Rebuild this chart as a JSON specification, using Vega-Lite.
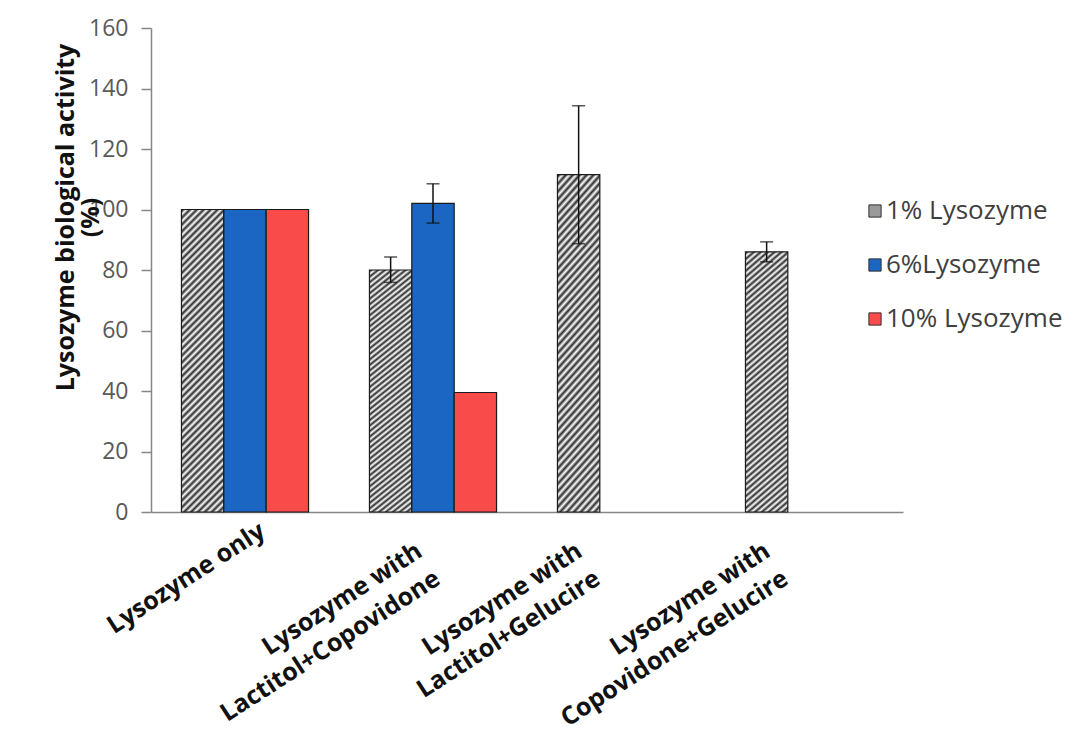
{
  "$schema": "https://vega.github.io/schema/vega-lite/v6.json",
  "width": 752,
  "height": 484,
  "autosize": {"type": "none"},
  "padding": {"left": 151, "top": 28, "right": 170, "bottom": 225},
  "background": "white",
  "config": {
    "view": {"stroke": null},
    "font": "Open Sans",
    "axis": {"grid": false}
  },
  "data": {
    "values": [
      {"group": "Lysozyme only", "series": "1% Lysozyme", "value": 100, "lo": null, "hi": null},
      {"group": "Lysozyme only", "series": "6%Lysozyme", "value": 100, "lo": null, "hi": null},
      {"group": "Lysozyme only", "series": "10% Lysozyme", "value": 100, "lo": null, "hi": null},
      {"group": "Lysozyme with\nLactitol+Copovidone", "series": "1% Lysozyme", "value": 80, "lo": 75.9, "hi": 84.3},
      {"group": "Lysozyme with\nLactitol+Copovidone", "series": "6%Lysozyme", "value": 102, "lo": 95.5, "hi": 108.5},
      {"group": "Lysozyme with\nLactitol+Copovidone", "series": "10% Lysozyme", "value": 39.5, "lo": null, "hi": null},
      {"group": "Lysozyme with\nLactitol+Gelucire", "series": "1% Lysozyme", "value": 111.5, "lo": 88.7, "hi": 134.3},
      {"group": "Lysozyme with\nCopovidone+Gelucire", "series": "1% Lysozyme", "value": 86, "lo": 82.7, "hi": 89.3}
    ]
  },
  "encoding": {
    "x": {
      "field": "group",
      "type": "nominal",
      "sort": null,
      "scale": {
        "domain": ["Lysozyme only", "Lysozyme with\nLactitol+Copovidone", "Lysozyme with\nLactitol+Gelucire", "Lysozyme with\nCopovidone+Gelucire"],
        "paddingInner": 0.324,
        "paddingOuter": 0.162
      },
      "axis": {
        "title": null,
        "ticks": false,
        "domainColor": "#868686",
        "domainWidth": 1.5,
        "labelAngle": -33,
        "labelAlign": "right",
        "labelBaseline": "top",
        "labelFont": "Open Sans",
        "labelFontWeight": "bold",
        "labelFontSize": 25,
        "labelColor": "#111111",
        "labelLineHeight": 33,
        "labelLimit": 500,
        "labelOverlap": false,
        "labelBound": false,
        "labelOffset": {
          "condition": [
            {"test": "datum.value === 'Lysozyme only'", "value": 11},
            {"test": "datum.value === 'Lysozyme with\\nLactitol+Copovidone'", "value": -20}
          ],
          "value": -48
        },
        "labelPadding": {
          "condition": {"test": "datum.value === 'Lysozyme only'", "value": 6},
          "value": 26
        },
        "labelExpr": "split(datum.label, '\\n')"
      }
    },
    "xOffset": {
      "field": "series",
      "type": "nominal",
      "scale": {"domain": ["1% Lysozyme", "6%Lysozyme", "10% Lysozyme"], "paddingInner": 0, "paddingOuter": 0}
    }
  },
  "layer": [
    {
      "mark": {"type": "bar", "stroke": "#1a1a1a", "strokeWidth": 1.2},
      "encoding": {
        "y": {
          "field": "value",
          "type": "quantitative",
          "scale": {"domain": [0, 160], "nice": false},
          "axis": {
            "values": [0, 20, 40, 60, 80, 100, 120, 140, 160],
            "title": ["Lysozyme biological activity", "(%)"],
            "titleFont": "Open Sans",
            "titleFontWeight": "bold",
            "titleFontSize": 25,
            "titleColor": "#111111",
            "titleAngle": -90,
            "titleAlign": "center",
            "titleBaseline": "middle",
            "titleX": -86,
            "titleY": 189,
            "titleLineHeight": 25,
            "domainColor": "#868686",
            "domainWidth": 1.5,
            "tickColor": "#868686",
            "tickSize": 10,
            "tickWidth": 1.5,
            "labelFont": "Open Sans",
            "labelFontSize": 23,
            "labelColor": "#595959",
            "labelPadding": 13
          }
        },
        "fill": {
          "condition": {
            "test": "datum.series === '1% Lysozyme'",
            "value": {"gradient": "linear", "x1": 0, "y1": 0, "x2": 0.1565, "y2": 1.118, "stops": [
                {"offset": 0.005, "color": "#2b2b2b"}, {"offset": 0.015, "color": "#ffffff"},
                {"offset": 0.025, "color": "#2b2b2b"}, {"offset": 0.035, "color": "#ffffff"},
                {"offset": 0.045, "color": "#2b2b2b"}, {"offset": 0.055, "color": "#ffffff"},
                {"offset": 0.065, "color": "#2b2b2b"}, {"offset": 0.075, "color": "#ffffff"},
                {"offset": 0.085, "color": "#2b2b2b"}, {"offset": 0.095, "color": "#ffffff"},
                {"offset": 0.105, "color": "#2b2b2b"}, {"offset": 0.115, "color": "#ffffff"},
                {"offset": 0.125, "color": "#2b2b2b"}, {"offset": 0.135, "color": "#ffffff"},
                {"offset": 0.145, "color": "#2b2b2b"}, {"offset": 0.155, "color": "#ffffff"},
                {"offset": 0.165, "color": "#2b2b2b"}, {"offset": 0.175, "color": "#ffffff"},
                {"offset": 0.185, "color": "#2b2b2b"}, {"offset": 0.195, "color": "#ffffff"},
                {"offset": 0.205, "color": "#2b2b2b"}, {"offset": 0.215, "color": "#ffffff"},
                {"offset": 0.225, "color": "#2b2b2b"}, {"offset": 0.235, "color": "#ffffff"},
                {"offset": 0.245, "color": "#2b2b2b"}, {"offset": 0.255, "color": "#ffffff"},
                {"offset": 0.265, "color": "#2b2b2b"}, {"offset": 0.275, "color": "#ffffff"},
                {"offset": 0.285, "color": "#2b2b2b"}, {"offset": 0.295, "color": "#ffffff"},
                {"offset": 0.305, "color": "#2b2b2b"}, {"offset": 0.315, "color": "#ffffff"},
                {"offset": 0.325, "color": "#2b2b2b"}, {"offset": 0.335, "color": "#ffffff"},
                {"offset": 0.345, "color": "#2b2b2b"}, {"offset": 0.355, "color": "#ffffff"},
                {"offset": 0.365, "color": "#2b2b2b"}, {"offset": 0.375, "color": "#ffffff"},
                {"offset": 0.385, "color": "#2b2b2b"}, {"offset": 0.395, "color": "#ffffff"},
                {"offset": 0.405, "color": "#2b2b2b"}, {"offset": 0.415, "color": "#ffffff"},
                {"offset": 0.425, "color": "#2b2b2b"}, {"offset": 0.435, "color": "#ffffff"},
                {"offset": 0.445, "color": "#2b2b2b"}, {"offset": 0.455, "color": "#ffffff"},
                {"offset": 0.465, "color": "#2b2b2b"}, {"offset": 0.475, "color": "#ffffff"},
                {"offset": 0.485, "color": "#2b2b2b"}, {"offset": 0.495, "color": "#ffffff"},
                {"offset": 0.505, "color": "#2b2b2b"}, {"offset": 0.515, "color": "#ffffff"},
                {"offset": 0.525, "color": "#2b2b2b"}, {"offset": 0.535, "color": "#ffffff"},
                {"offset": 0.545, "color": "#2b2b2b"}, {"offset": 0.555, "color": "#ffffff"},
                {"offset": 0.565, "color": "#2b2b2b"}, {"offset": 0.575, "color": "#ffffff"},
                {"offset": 0.585, "color": "#2b2b2b"}, {"offset": 0.595, "color": "#ffffff"},
                {"offset": 0.605, "color": "#2b2b2b"}, {"offset": 0.615, "color": "#ffffff"},
                {"offset": 0.625, "color": "#2b2b2b"}, {"offset": 0.635, "color": "#ffffff"},
                {"offset": 0.645, "color": "#2b2b2b"}, {"offset": 0.655, "color": "#ffffff"},
                {"offset": 0.665, "color": "#2b2b2b"}, {"offset": 0.675, "color": "#ffffff"},
                {"offset": 0.685, "color": "#2b2b2b"}, {"offset": 0.695, "color": "#ffffff"},
                {"offset": 0.705, "color": "#2b2b2b"}, {"offset": 0.715, "color": "#ffffff"},
                {"offset": 0.725, "color": "#2b2b2b"}, {"offset": 0.735, "color": "#ffffff"},
                {"offset": 0.745, "color": "#2b2b2b"}, {"offset": 0.755, "color": "#ffffff"},
                {"offset": 0.765, "color": "#2b2b2b"}, {"offset": 0.775, "color": "#ffffff"},
                {"offset": 0.785, "color": "#2b2b2b"}, {"offset": 0.795, "color": "#ffffff"},
                {"offset": 0.805, "color": "#2b2b2b"}, {"offset": 0.815, "color": "#ffffff"},
                {"offset": 0.825, "color": "#2b2b2b"}, {"offset": 0.835, "color": "#ffffff"},
                {"offset": 0.845, "color": "#2b2b2b"}, {"offset": 0.855, "color": "#ffffff"},
                {"offset": 0.865, "color": "#2b2b2b"}, {"offset": 0.875, "color": "#ffffff"},
                {"offset": 0.885, "color": "#2b2b2b"}, {"offset": 0.895, "color": "#ffffff"},
                {"offset": 0.905, "color": "#2b2b2b"}, {"offset": 0.915, "color": "#ffffff"},
                {"offset": 0.925, "color": "#2b2b2b"}, {"offset": 0.935, "color": "#ffffff"},
                {"offset": 0.945, "color": "#2b2b2b"}, {"offset": 0.955, "color": "#ffffff"},
                {"offset": 0.965, "color": "#2b2b2b"}, {"offset": 0.975, "color": "#ffffff"},
                {"offset": 0.985, "color": "#2b2b2b"}, {"offset": 0.995, "color": "#ffffff"}
              ]}
          },
          "field": "series",
          "type": "nominal",
          "scale": {
            "domain": ["1% Lysozyme", "6%Lysozyme", "10% Lysozyme"],
            "range": ["#9a9a9a", "#1a66c2", "#fa4b4b"]
          },
          "legend": {
            "title": null,
            "orient": "none",
            "legendX": 711,
            "legendY": 170,
            "symbolType": "square",
            "symbolSize": 150,
            "symbolStrokeColor": "#333333",
            "symbolStrokeWidth": 1,
            "labelFont": "Open Sans",
            "labelFontSize": 26,
            "labelColor": "#404040",
            "labelOffset": -2,
            "rowPadding": 28,
            "labelLimit": 300
          }
        }
      }
    },
    {
      "transform": [{"filter": "datum.lo != null"}],
      "mark": {"type": "rule", "color": "#111111", "strokeWidth": 1.5},
      "encoding": {
        "y": {"field": "lo", "type": "quantitative"},
        "y2": {"field": "hi"}
      }
    },
    {
      "transform": [{"filter": "datum.lo != null"}],
      "mark": {"type": "tick", "color": "#111111", "size": 13, "thickness": 1.5},
      "encoding": {
        "y": {"field": "lo", "type": "quantitative"}
      }
    },
    {
      "transform": [{"filter": "datum.lo != null"}],
      "mark": {"type": "tick", "color": "#111111", "size": 13, "thickness": 1.5},
      "encoding": {
        "y": {"field": "hi", "type": "quantitative"}
      }
    }
  ]
}
